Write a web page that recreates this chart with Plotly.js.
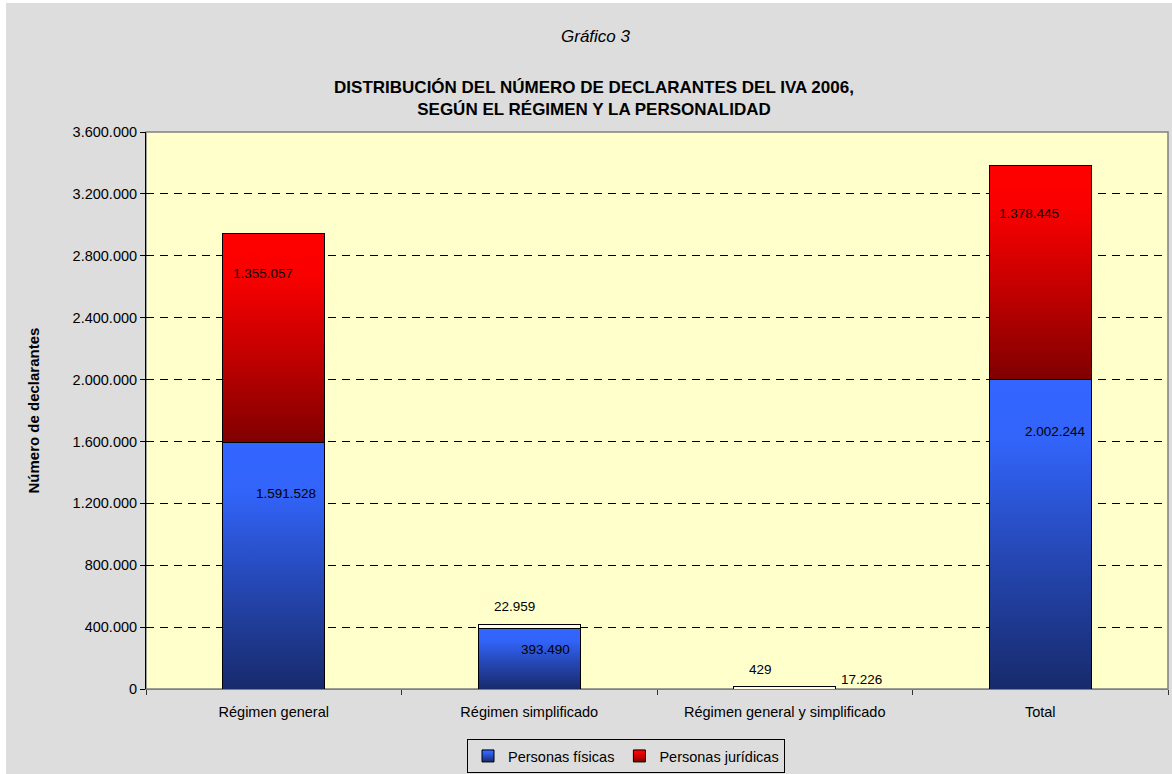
<!DOCTYPE html>
<html>
<head>
<meta charset="utf-8">
<script src="https://cdn.plot.ly/plotly-3.0.1.min.js"></script>
<style>
  html, body { margin: 0; padding: 0; background: #ffffff; }
  #chart { position: absolute; left: 6px; top: 3px; width: 1166px; height: 771px; }
</style>
</head>
<body>
<div id="chart"></div>
<script>
// ---- Data ----
const categories = ['Régimen general', 'Régimen simplificado', 'Régimen general y simplificado', 'Total'];
const personasFisicas = [1591528, 393490, 17226, 2002244];
const personasJuridicas = [1355057, 22959, 429, 1378445];
const seriesNames = ['Personas físicas', 'Personas jurídicas'];
const yTickValues = [0, 400000, 800000, 1200000, 1600000, 2000000, 2400000, 2800000, 3200000, 3600000];

// label pixel offsets relative to the top of each segment (manual placement as in reference)
const fisicasLabelShift = [[12.5, -51], [16, -21], [77, 7], [15, -52]];
const juridicasLabelShift = [[-10.5, -40], [-14.5, 18], [-24.5, 17], [-11, -48]];

const FONT = '"Liberation Sans", Arial, sans-serif';

function fmt(n) {
  return String(n).replace(/\B(?=(\d{3})+(?!\d))/g, '.');
}

const traces = [
  {
    type: 'bar', name: seriesNames[0], x: categories, y: personasFisicas,
    width: 0.4,
    marker: { color: '#3366ff', line: { color: '#000000', width: 1 } },
    hoverinfo: 'skip'
  },
  {
    type: 'bar', name: seriesNames[1], x: categories, y: personasJuridicas,
    width: 0.4,
    marker: { color: '#ff0000', line: { color: '#000000', width: 1 } },
    hoverinfo: 'skip'
  }
];

const annotations = [];
categories.forEach((c, i) => {
  const topF = personasFisicas[i];
  const topJ = personasFisicas[i] + personasJuridicas[i];
  annotations.push({
    x: c, y: topF, xref: 'x', yref: 'y', text: fmt(personasFisicas[i]), showarrow: false,
    xshift: fisicasLabelShift[i][0], yshift: fisicasLabelShift[i][1],
    font: { family: FONT, size: 13.5, color: '#000' }
  });
  annotations.push({
    x: c, y: topJ, xref: 'x', yref: 'y', text: fmt(personasJuridicas[i]), showarrow: false,
    xshift: juridicasLabelShift[i][0], yshift: juridicasLabelShift[i][1],
    font: { family: FONT, size: 13.5, color: '#000' }
  });
});
// "Gráfico 3"
annotations.push({
  xref: 'paper', yref: 'paper', x: 0.44, y: 1 + 95 / 557, xanchor: 'center', yanchor: 'middle',
  text: '<i>Gráfico 3</i>', showarrow: false,
  font: { family: FONT, size: 17, color: '#000' }
});
// y axis title
annotations.push({
  xref: 'paper', yref: 'paper', x: -113 / 1022, y: 0.5, xanchor: 'center', yanchor: 'middle',
  text: '<b>Número de declarantes</b>', textangle: -90, showarrow: false,
  font: { family: FONT, size: 15, color: '#000' }
});

const layout = {
  width: 1166, height: 771,
  margin: { l: 140, r: 4, t: 129, b: 85, autoexpand: false },
  paper_bgcolor: '#dddddd',
  plot_bgcolor: '#ffffcc',
  separators: ',.',
  barmode: 'stack',
  showlegend: true,
  font: { family: FONT, size: 14.5, color: '#000' },
  title: {
    text: '<b>DISTRIBUCIÓN DEL NÚMERO DE DECLARANTES DEL IVA 2006,<br>SEGÚN EL RÉGIMEN Y LA PERSONALIDAD</b>',
    font: { family: FONT, size: 17, color: '#000' },
    xref: 'container', x: 588 / 1166, xanchor: 'center',
    yref: 'container', y: 1 - 90 / 771, yanchor: 'middle'
  },
  xaxis: {
    type: 'category',
    ticks: 'outside', tickson: 'boundaries', ticklen: 5, tickcolor: '#333',
    ticklabelstandoff: 10,
    showline: true, linecolor: '#808080', linewidth: 1,
    showgrid: false, zeroline: false,
    tickfont: { family: FONT, size: 14.5, color: '#000' }
  },
  yaxis: {
    range: [0, 3600000],
    tickvals: yTickValues,
    tickformat: ',.0f',
    ticks: 'outside', ticklen: 5, tickcolor: '#000',
    showline: true, linecolor: '#000', linewidth: 1,
    showgrid: true, gridcolor: '#000', gridwidth: 1, griddash: '8px,6px',
    zeroline: false,
    tickfont: { family: FONT, size: 14.5, color: '#000' }
  },
  legend: {
    orientation: 'h', xref: 'paper', yref: 'paper',
    x: (620 - 140) / 1022, xanchor: 'center',
    y: -(753 - 686) / 557, yanchor: 'middle',
    bgcolor: '#dddddd', bordercolor: '#000', borderwidth: 1,
    font: { family: FONT, size: 14.5, color: '#000' },
    itemwidth: 30, traceorder: 'normal'
  },
  shapes: [{
    type: 'rect', xref: 'paper', yref: 'paper', x0: 0, x1: 1, y0: 0, y1: 1,
    line: { color: '#808080', width: 1.5 }, fillcolor: 'rgba(0,0,0,0)', layer: 'between'
  }],
  annotations: annotations
};

Plotly.newPlot('chart', traces, layout, { staticPlot: true }).then(gd => {
  const svgNS = 'http://www.w3.org/2000/svg';
  const svg = gd.querySelector('svg.main-svg');
  let defs = svg.querySelector('defs');
  if (!defs) { defs = document.createElementNS(svgNS, 'defs'); svg.insertBefore(defs, svg.firstChild); }
  function addGrad(id, stops) {
    const g = document.createElementNS(svgNS, 'linearGradient');
    g.setAttribute('id', id);
    g.setAttribute('x1', '0'); g.setAttribute('y1', '0');
    g.setAttribute('x2', '0'); g.setAttribute('y2', '1');
    stops.forEach(s => {
      const st = document.createElementNS(svgNS, 'stop');
      st.setAttribute('offset', s[0]);
      st.setAttribute('stop-color', s[1]);
      g.appendChild(st);
    });
    defs.appendChild(g);
  }
  addGrad('gradBlue', [['0', '#3366ff'], ['0.2', '#3264fa'], ['0.55', '#2649b8'], ['1', '#172a6b']]);
  addGrad('gradRed', [['0', '#ff0000'], ['0.2', '#fa0000'], ['0.6', '#c00000'], ['1', '#800000']]);
  const grads = ['url(#gradBlue)', 'url(#gradRed)'];
  const barTraces = gd.querySelectorAll('.barlayer .trace');
  barTraces.forEach((t, ti) => {
    t.querySelectorAll('.point path').forEach(p => {
      let h = 100;
      try { h = p.getBBox().height; } catch (e) {}
      p.style.fill = h < 6 ? '#fffde6' : grads[ti];
    });
  });
  const legendItems = gd.querySelectorAll('.legend .traces');
  legendItems.forEach((t, ti) => {
    t.querySelectorAll('.legendpoints path').forEach(p => { p.style.fill = grads[ti]; });
  });
});
</script>
</body>
</html>
